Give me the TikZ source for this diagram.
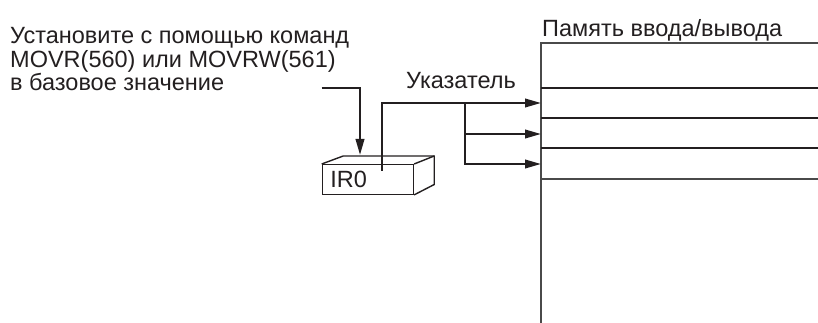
\documentclass[tikz,border=0pt]{standalone}
\usepackage{fontspec}
\setmainfont{Liberation Sans}
\usepackage{xcolor}
\usetikzlibrary{arrows.meta,positioning}
\definecolor{irInk}{HTML}{231F20}
\definecolor{irFrame}{HTML}{4A4A4A}
\tikzset{
  ir diagram/.style={font=\fontsize{23.5}{23.5}\selectfont, text=irInk,
    x=1pt, y=-1pt, line join=miter},
  ir label/.style={inner sep=0pt, align=left},
  ir register/.style={draw=irInk, line width=1.4pt, inner ysep=0pt,
    inner xsep=8pt, text width=75pt, align=left, minimum height=29.5pt},
  ir box line/.style={draw=irInk, line width=1.4pt},
  ir arrow/.style={-{Triangle[length=16pt,width=8.5pt]}, draw=irInk, line width=2.2pt},
  ir row/.style={draw=irInk, line width=1.7pt},
  ir frame/.style={draw=irFrame, line width=1.1pt}
}

\begin{document}
\begin{tikzpicture}[ir diagram]
\useasboundingbox (0,0) rectangle (818,323);
% memory block
\draw[ir frame] (818,43) -| (541,323);
\foreach \y in {88,118,148}{
  \draw[ir row] (541,\y) -- (818,\y);
}
\draw[ir frame] (541,179) -- (818,179);
\coordinate (row1) at (541,103);
\coordinate (row2) at (541,134);
\coordinate (row3) at (541,164);
\node[ir label,anchor=base west] (memtitle) at (542,36.7) {Память ввода/вывода};
% text
\node[ir label,anchor=base west] (settext) at (10,90.7)
  {Установите с помощью команд\\MOVR(560) или MOVRW(561)\\в базовое значение};
% index register
\node[ir register,anchor=north west] (ir0) at (321.7,164) {IR0};
\draw[ir box line] (ir0.north west) -- ++(21.5,-8) -- ++(91,0) coordinate (backright)
  -- ++(0,28.5) -- (ir0.south east);
\draw[ir box line] (ir0.north east) -- (backright);
% connectors
\coordinate (setin) at (321.7,88.3);
\coordinate (settip) at ([xshift=38.3pt,yshift=9pt]ir0.north west);
\draw[ir arrow] (setin) -| (settip);
\coordinate (ptr) at ([xshift=60pt,yshift=-6.7pt]ir0.north west);
\draw[ir arrow] (ptr) |- (row1);
\coordinate (fork) at ([xshift=-76pt]row1);
\draw[ir arrow] (fork) |- (row2);
\draw[ir arrow] (fork) |- (row3);
\node[ir label,anchor=base] (ptrlabel) at (461,88.3) {Указатель};
\end{tikzpicture}
\end{document}
